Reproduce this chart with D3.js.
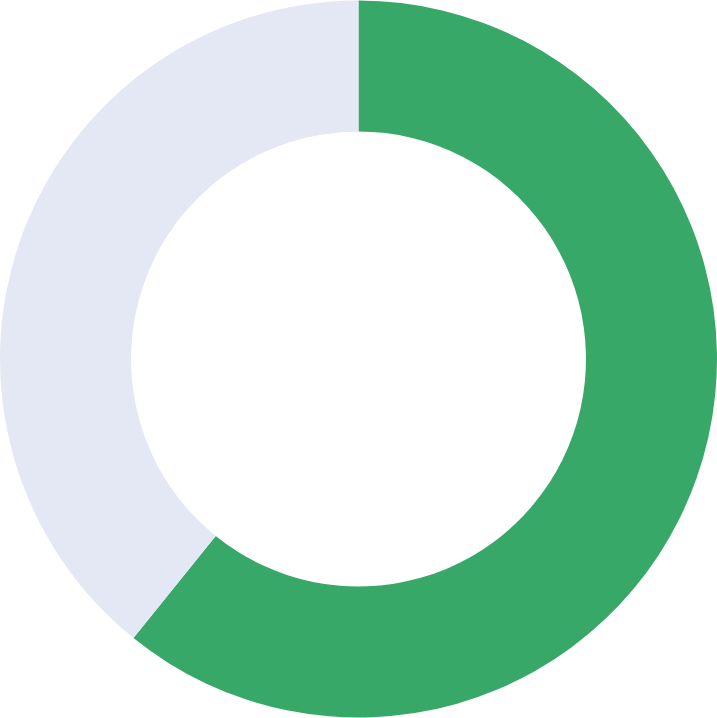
<!DOCTYPE html>
<html>
<head>
<meta charset="utf-8">
<script src="https://cdn.jsdelivr.net/npm/d3@7"></script>
<style>
  html, body { margin: 0; padding: 0; background: #fff; overflow: hidden; }
</style>
</head>
<body>
<div id="container"></div>
<script>
var labels = ["Filled", "Remaining"];
var values = [60.8, 39.2];
var colors = ["#38a869", "#e4e7f4"];

var width = 717, height = 718;
var outerR = 358.5, innerR = 227.5;

var svg = d3.select("#container").append("svg")
  .attr("width", width)
  .attr("height", height);

var g = svg.append("g")
  .attr("transform", "translate(" + (width / 2) + "," + (height / 2) + ")");

var pie = d3.pie().sort(null).value(function(d) { return d; });
var arc = d3.arc().innerRadius(innerR).outerRadius(outerR);

g.selectAll("path")
  .data(pie(values))
  .enter().append("path")
  .attr("d", arc)
  .attr("fill", function(d, i) { return colors[i]; })
  .append("title")
  .text(function(d, i) { return labels[i] + ": " + values[i]; });
</script>
</body>
</html>
